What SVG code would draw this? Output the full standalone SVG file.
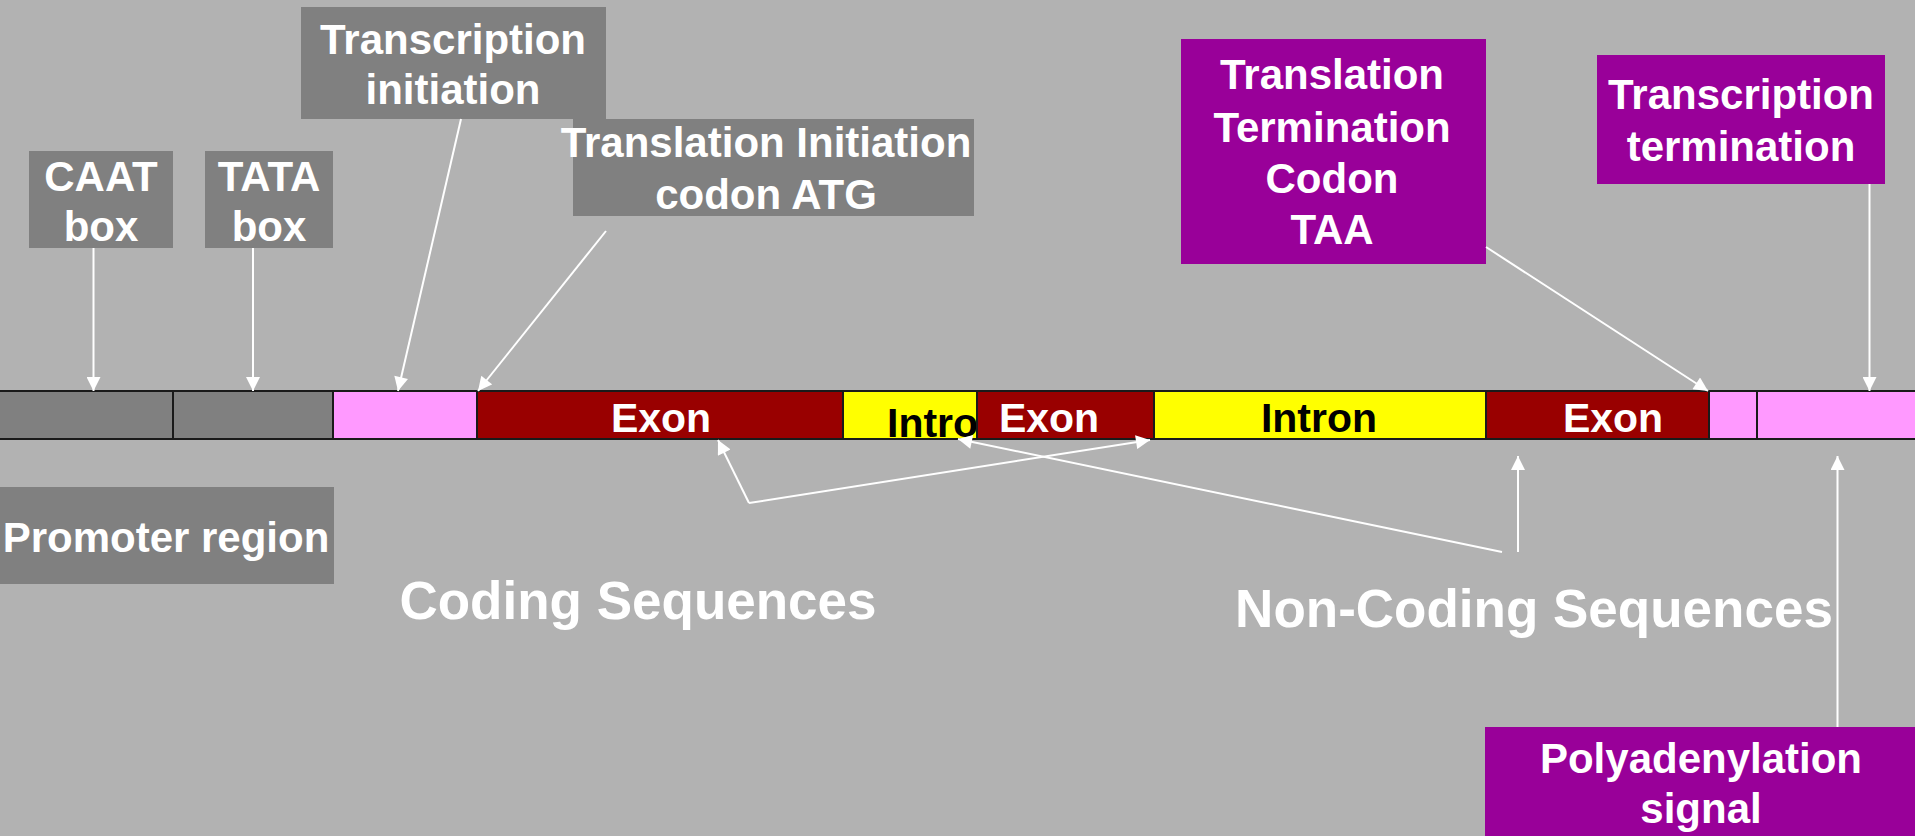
<svg xmlns="http://www.w3.org/2000/svg" width="1915" height="836" viewBox="0 0 1915 836">
  <defs>
    <marker id="arrow" viewBox="0 0 10 10" refX="10" refY="5" markerWidth="15" markerHeight="14" markerUnits="userSpaceOnUse" orient="auto">
      <path d="M0,0 L10,5 L0,10 Z" fill="#FFFFFF"/>
    </marker>
    <style>
      text { font-family: "Liberation Sans", Arial, sans-serif; font-weight: bold; text-anchor: middle; }
      .lbl { font-size: 42px; fill: #FFFFFF; }
      .big { font-size: 53px; fill: #FFFFFF; }
      .seg-text { font-size: 41px; }
      .grey { fill: #808080; }
      .purple { fill: #990099; }
      .seg { stroke: #1A1A1A; stroke-width: 2; }
      .exon { fill: #990000; }
      .intron { fill: #FFFF00; }
      .utr { fill: #FF99FF; }
      .promoter { fill: #808080; }
      .conn { stroke: #FFFFFF; stroke-width: 2; fill: none; }
    </style>
  </defs>

  <rect width="1915" height="836" fill="#B2B2B2"/>

  <!-- gene bar -->
  <g id="gene-bar">
    <rect class="seg promoter" x="-2" y="391" width="175" height="48"/>
    <rect class="seg promoter" x="173" y="391" width="160" height="48"/>
    <rect class="seg utr" x="333" y="391" width="144" height="48"/>
    <rect class="seg exon" x="477" y="391" width="366" height="48"/>
    <text class="seg-text" x="661" y="432" fill="#FFFFFF">Exon</text>
    <rect class="seg intron" x="843" y="391" width="134" height="48"/>
    <text class="seg-text" x="887" y="437" fill="#000000" style="text-anchor:start">Intron</text>
    <rect class="seg exon" x="977" y="391" width="177" height="48"/>
    <text class="seg-text" x="1049" y="432" fill="#FFFFFF">Exon</text>
    <rect class="seg intron" x="1154" y="391" width="332" height="48"/>
    <text class="seg-text" x="1319" y="432" fill="#000000">Intron</text>
    <rect class="seg exon" x="1486" y="391" width="223" height="48"/>
    <text class="seg-text" x="1613" y="432" fill="#FFFFFF">Exon</text>
    <rect class="seg utr" x="1709" y="391" width="48" height="48"/>
    <rect class="seg utr" x="1757" y="391" width="170" height="48"/>
  </g>

  <g id="caat-box">
    <rect class="grey" x="29" y="151" width="144" height="97"/>
    <text class="lbl" x="101" y="191">CAAT</text>
    <text class="lbl" x="101" y="241">box</text>
  </g>

  <g id="tata-box">
    <rect class="grey" x="205" y="151" width="128" height="97"/>
    <text class="lbl" x="269" y="191">TATA</text>
    <text class="lbl" x="269" y="241">box</text>
  </g>

  <g id="transcription-initiation">
    <rect class="grey" x="301" y="7" width="305" height="112"/>
    <text class="lbl" x="453" y="54">Transcription</text>
    <text class="lbl" x="453" y="104">initiation</text>
  </g>

  <g id="translation-initiation">
    <rect class="grey" x="573" y="119" width="401" height="97"/>
    <text class="lbl" x="766" y="157">Translation Initiation</text>
    <text class="lbl" x="766" y="209">codon ATG</text>
  </g>

  <g id="translation-termination">
    <rect class="purple" x="1181" y="39" width="305" height="225"/>
    <text class="lbl" x="1332" y="89">Translation</text>
    <text class="lbl" x="1332" y="142">Termination</text>
    <text class="lbl" x="1332" y="193">Codon</text>
    <text class="lbl" x="1332" y="244">TAA</text>
  </g>

  <g id="transcription-termination">
    <rect class="purple" x="1597" y="55" width="288" height="129"/>
    <text class="lbl" x="1741" y="109">Transcription</text>
    <text class="lbl" x="1741" y="161">termination</text>
  </g>

  <g id="promoter-region">
    <rect class="grey" x="0" y="487" width="334" height="97"/>
    <text class="lbl" x="166" y="552">Promoter region</text>
  </g>

  <g id="polyadenylation-signal">
    <rect class="purple" x="1485" y="727" width="430" height="109"/>
    <text class="lbl" x="1701" y="773">Polyadenylation</text>
    <text class="lbl" x="1701" y="823">signal</text>
  </g>

  <g id="coding-sequences">
    <text class="big" x="638" y="619">Coding Sequences</text>
  </g>

  <g id="non-coding-sequences">
    <text class="big" x="1534" y="627">Non-Coding Sequences</text>
  </g>

  <!-- connectors -->
  <g id="connectors">
    <line class="conn" x1="93.5" y1="248" x2="93.5" y2="391" marker-end="url(#arrow)"/>
    <line class="conn" x1="253" y1="248" x2="253" y2="391" marker-end="url(#arrow)"/>
    <line class="conn" x1="461" y1="119" x2="398" y2="391" marker-end="url(#arrow)"/>
    <line class="conn" x1="606" y1="231" x2="478" y2="391" marker-end="url(#arrow)"/>
    <line class="conn" x1="1486" y1="247" x2="1708" y2="391" marker-end="url(#arrow)"/>
    <line class="conn" x1="1869.5" y1="184" x2="1869.5" y2="391" marker-end="url(#arrow)"/>
    <line class="conn" x1="749" y1="503" x2="718" y2="440" marker-end="url(#arrow)"/>
    <line class="conn" x1="749" y1="503" x2="1150" y2="440" marker-end="url(#arrow)"/>
    <line class="conn" x1="1502" y1="552" x2="958" y2="439" marker-end="url(#arrow)"/>
    <line class="conn" x1="1518" y1="552" x2="1518" y2="456" marker-end="url(#arrow)"/>
    <line class="conn" x1="1837.5" y1="727" x2="1837.5" y2="456" marker-end="url(#arrow)"/>
  </g>
</svg>
